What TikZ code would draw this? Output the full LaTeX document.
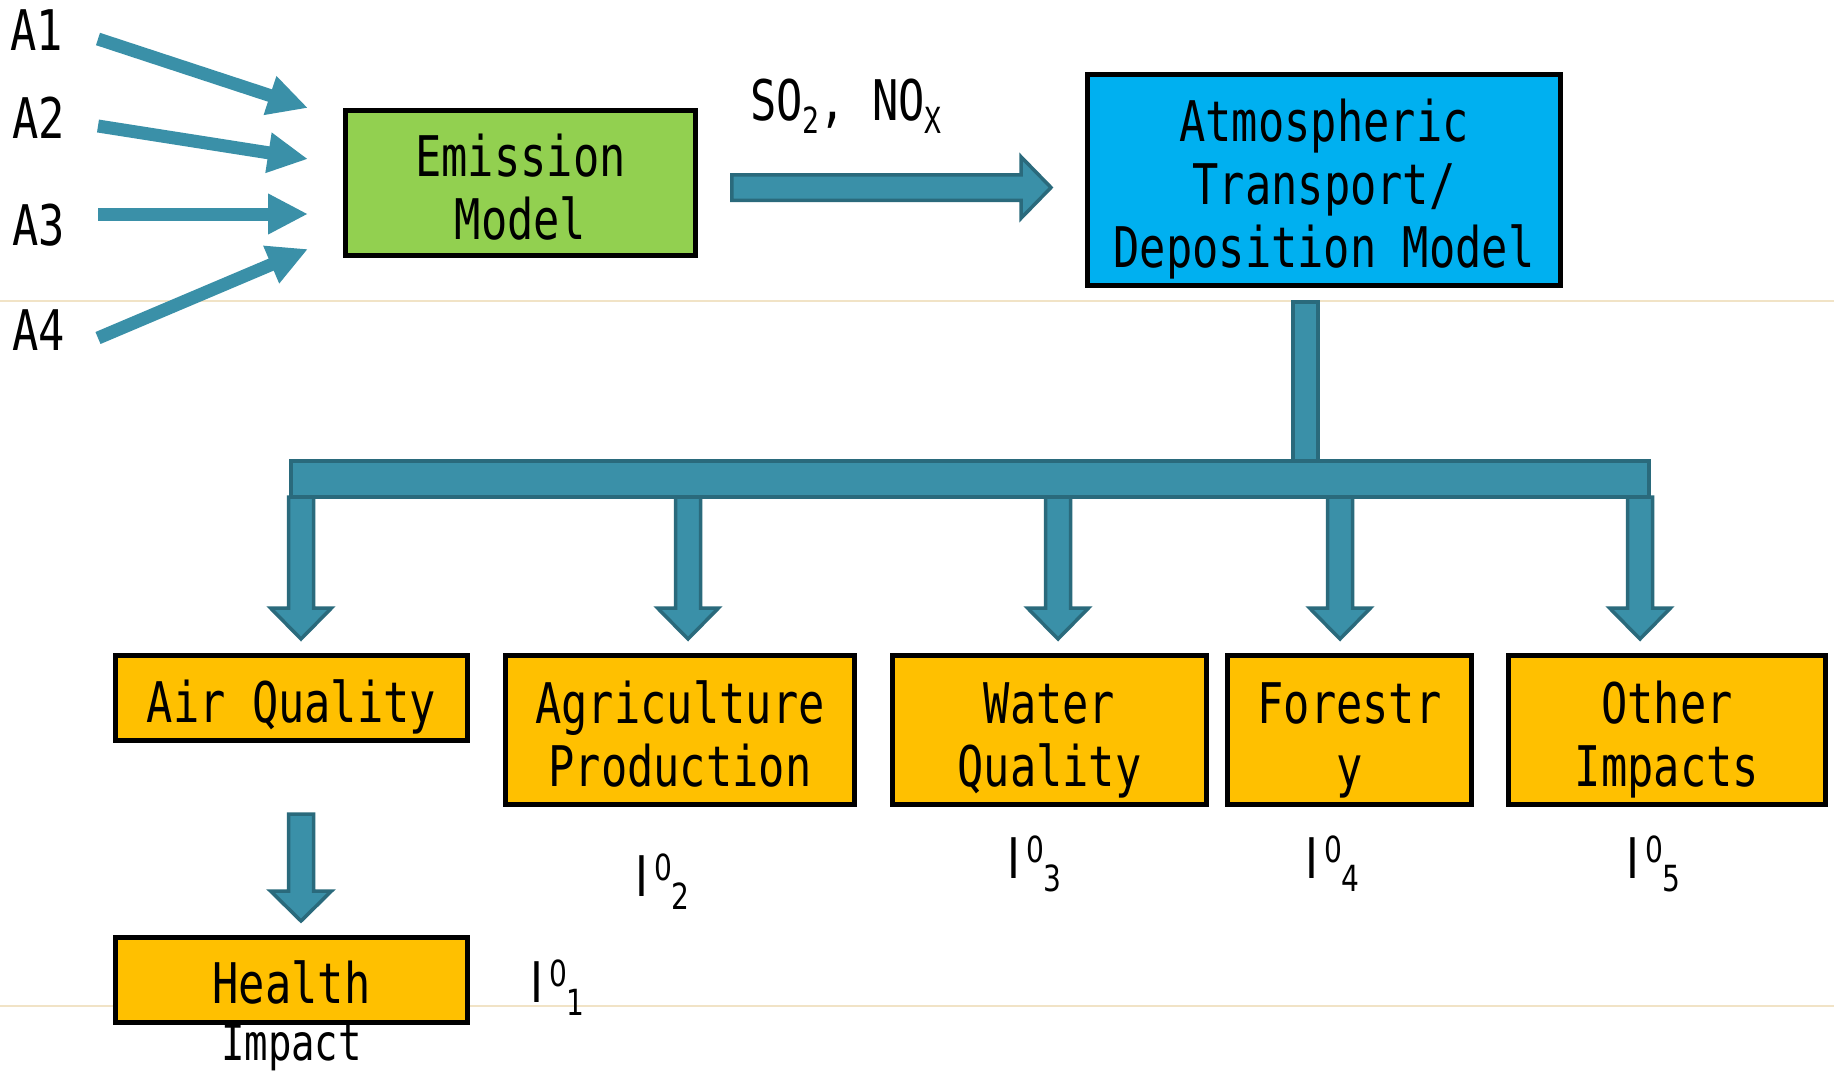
\documentclass[tikz,border=0pt]{standalone}
\usepackage{fontspec}
\newfontfamily\gfont[FakeStretch=0.78]{DejaVu Sans Mono}
\newfontfamily\nfont[FakeStretch=0.78]{DejaVu Sans}
\usetikzlibrary{arrows.meta}

\definecolor{teal1}{HTML}{3A90A8}
\definecolor{teal2}{HTML}{2A6A7C}
\definecolor{boxgreen}{HTML}{92D050}
\definecolor{boxblue}{HTML}{00B0F0}
\definecolor{boxyellow}{HTML}{FFC000}
\definecolor{guide}{HTML}{F1E3C6}

\newcommand{\bigtxt}{\gfont\fontsize{56pt}{63pt}\selectfont}
\newcommand{\smtxt}{\gfont\fontsize{36pt}{40pt}\selectfont}
\newcommand{\idxtxt}{\nfont\fontsize{56pt}{63pt}\selectfont}
\newcommand{\idxsm}{\nfont\fontsize{36pt}{40pt}\selectfont}
\newcommand{\lowr}[1]{\raisebox{-13pt}{\smtxt #1}}
% impact index: I with superscript 0 and a subscript number
\newcommand{\impidx}[1]{I\kern6pt\raisebox{16pt}{\idxsm 0}\raisebox{-13pt}{\idxsm #1}}
% struts that fix the height of the first line and the depth of the last
\newcommand{\tops}{\rule{0pt}{62pt}}
\newcommand{\bots}{\rule[-13pt]{0pt}{13pt}}

% block arrow pointing down: start coordinate, shaft length, head length
\newcommand{\downblock}[3]{%
  \filldraw[fatarrow] (#1) ++(-12.5,0) -- ++(25,0) -- ++(0,#2) -- ++(18,0)
    -- ++(-30.5,#3) -- ++(-30.5,-#3) -- ++(18,0) -- cycle;}

\tikzset{
  modelbox/.style={draw=black, line width=5pt, inner sep=0pt, align=center,
    font=\bigtxt, text=black},
  fatarrow/.style={fill=teal1, draw=teal2, line width=3.5pt, line join=miter},
  thinarrow/.style={draw=teal1, line width=13pt,
    -{Triangle[length=40pt,width=38pt]}},
  plainlabel/.style={inner sep=0pt, font=\bigtxt, text=black},
  idxlabel/.style={inner sep=0pt, font=\idxtxt, text=black, anchor=base west},
  guideline/.style={draw=guide, line width=1.2pt},
}

\begin{document}
\begin{tikzpicture}[x=1pt,y=-1pt]
\fill[white] (0,0) rectangle (1834,1072);
\useasboundingbox (0,0) rectangle (1834,1072);

% faint guide lines
\draw[guideline] (0,301) -- (1834,301);
\draw[guideline] (0,1006) -- (1834,1006);

% scenario labels
\node[plainlabel] (A1) at (37,30) {A1};
\node[plainlabel] (A2) at (39,118) {A2};
\node[plainlabel] (A3) at (39,225) {A3};
\node[plainlabel] (A4) at (39,330) {A4};

% models
\node[modelbox, fill=boxgreen, minimum width=350pt, minimum height=145pt]
  (emission) at (520.5,183) {\tops Emission\\Model\bots};
\node[modelbox, fill=boxblue, minimum width=473pt, minimum height=211pt]
  (atd) at (1324,180) {\tops Atmospheric\\Transport/\\Deposition Model\bots};

% impact boxes
\node[modelbox, fill=boxyellow, minimum width=352pt, minimum height=85pt]
  (air) at (291.5,698) {\tops Air Quality\bots};
\node[modelbox, fill=boxyellow, minimum width=349pt, minimum height=149pt]
  (agri) at (680,730) {\tops Agriculture\\Production\bots};
\node[modelbox, fill=boxyellow, minimum width=314pt, minimum height=149pt]
  (water) at (1049.5,730) {\tops Water\\Quality\bots};
\node[modelbox, fill=boxyellow, minimum width=244pt, minimum height=149pt]
  (forest) at (1349.5,730) {\tops Forestr\\y\bots};
\node[modelbox, fill=boxyellow, minimum width=317pt, minimum height=149pt]
  (other) at (1667,730) {\tops Other\\Impacts\bots};
\node[modelbox, fill=boxyellow, minimum width=352pt, minimum height=85pt]
  (health) at (291.5,980) {};
\node[plainlabel, align=center] (healthtxt) at (291.5,1007)
  {\tops Health\\[-6pt]{\fontsize{50pt}{63pt}\selectfont Impact}\bots};

% pollutant label
\node[plainlabel, anchor=base west] (pollut) at (750,120)
  {SO\lowr{2}, NO\lowr{X}};

% impact indices
\node[idxlabel] (i1) at (530,1002) {\impidx{1}};
\node[idxlabel] (i2) at (635,896) {\impidx{2}};
\node[idxlabel] (i3) at (1007,878) {\impidx{3}};
\node[idxlabel] (i4) at (1305,878) {\impidx{4}};
\node[idxlabel] (i5) at (1626,878) {\impidx{5}};

% scenario arrows into the emission model
\coordinate (a1s) at (98,39);  \coordinate (a1e) at (308,108);
\coordinate (a2s) at (98,126); \coordinate (a2e) at (308,159);
\coordinate (a3s) at (98,214); \coordinate (a3e) at (308,214);
\coordinate (a4s) at (98,338); \coordinate (a4e) at (308,249);
\draw[thinarrow] (a1s) -- (a1e);
\draw[thinarrow] (a2s) -- (a2e);
\draw[thinarrow] (a3s) -- (a3e);
\draw[thinarrow] (a4s) -- (a4e);

% emission model to transport model
\coordinate (e2a) at (731.75,187.5);
\filldraw[fatarrow] (e2a) ++(0,-12.75) -- ++(289.25,0) -- ++(0,-18)
  -- ++(30,30.75) -- ++(-30,30.75) -- ++(0,-18) -- ++(-289.25,0) -- cycle;

% distribution tree below the transport model
\filldraw[fatarrow] (1293,302) rectangle (1318,461);
\filldraw[fatarrow] (291,461) rectangle (1649,497);
\coordinate (d1) at (301,497);
\coordinate (d2) at (688,497);
\coordinate (d3) at (1058,497);
\coordinate (d4) at (1340,497);
\coordinate (d5) at (1640,497);
\downblock{d1}{111}{31}
\downblock{d2}{111}{31}
\downblock{d3}{111}{31}
\downblock{d4}{111}{31}
\downblock{d5}{111}{31}

% air quality to health impact
\coordinate (dh) at (301,814);
\downblock{dh}{77}{30}
\end{tikzpicture}
\end{document}
